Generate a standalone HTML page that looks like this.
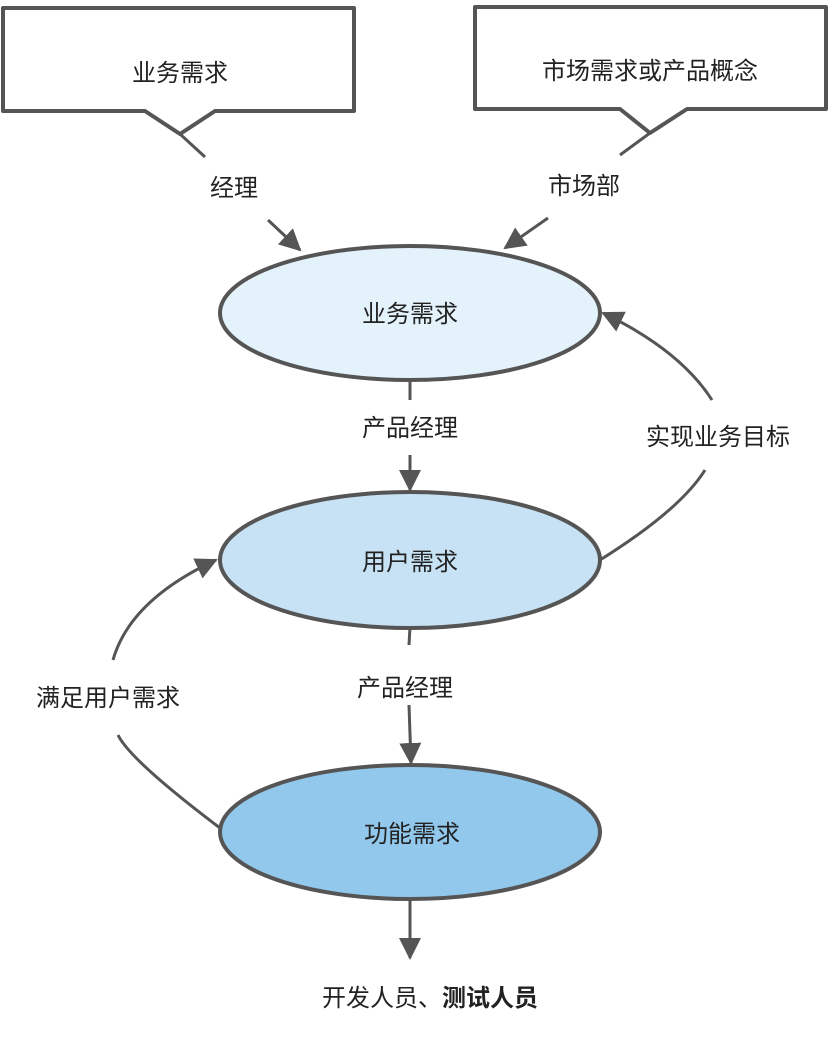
<!DOCTYPE html>
<html><head><meta charset="utf-8"><style>
body{margin:0;background:#fff;}
svg text{font-family:"Liberation Sans","Noto Sans CJK SC",sans-serif;font-size:24px;fill:#222;}
</style></head><body>
<svg width="828" height="1034" viewBox="0 0 828 1034" xmlns="http://www.w3.org/2000/svg">
<defs><marker id="a" markerWidth="10" markerHeight="10" refX="8" refY="5" orient="auto" markerUnits="userSpaceOnUse" viewBox="0 0 10 10"><path d="M0,0 L10,5 L0,10z" fill="#555"/></marker>
<marker id="b" markerWidth="22" markerHeight="22" refX="20" refY="11" orient="auto" markerUnits="userSpaceOnUse"><path d="M0,0 L22,11 L0,22z" fill="#555"/></marker></defs>
<g fill="#fff" stroke="#555" stroke-width="4" stroke-linejoin="round">
<path d="M3,8 H356 V111 H135 L113,133 L91,111 H3 Z" transform="translate(0,0)"/>
</g>
<g fill="#fff" stroke="#555" stroke-width="4" stroke-linejoin="round">
<path d="M3,8 H356 V111 H135 L113,133 L91,111 H3 Z" stroke="none" fill="none"/>
</g>
<path d="M3,8 H222 V111 H135 L113,134 L91,111 H3 Z" fill="none" stroke="none"/>
<path d="M3,8 H222 V111 H135 L113,133 L91,111 H3 Z" fill="none" stroke="none"/>
<path d="M3,8 H354 V111 H136 L114,134 L92,111 H3 Z" fill="none" stroke="none"/>
<g fill="#fff" stroke="#555" stroke-width="4">
<path d="M3,8 H354 V111 H215 L180,134 L145,111 H3 Z" stroke="none"/>
</g>
<rect x="0" y="0" width="0" height="0"/>
<g stroke="#555" stroke-width="4" fill="#fff" stroke-linejoin="round">
<path d="M3,8 H354 V111 H135 L113,133"/>
</g>
<rect x="0" y="0" width="828" height="200" fill="#fff"/>
<g stroke="#555" stroke-width="4" fill="#fff" stroke-linejoin="round">
<path d="M3,8 H222 V111 H136 L114,134 L92,111 H3 Z"/>
</g>
<rect x="0" y="0" width="828" height="200" fill="#fff"/>
<g stroke="#555" stroke-width="4" fill="#fff" stroke-linejoin="round">
<path d="M3,8 H223 V111 H135 L113,134 L91,111 H3 Z" transform="scale(1.59,1) translate(-1.1,0)"/>
</g>
<rect x="0" y="0" width="828" height="200" fill="#fff"/>
<g stroke="#555" stroke-width="4" fill="#fff" stroke-linejoin="round">
<path d="M3,8 H354 V111 H215 L180,134 L145,111 H3 Z"/>
<path d="M475,7 H826 V109 H687 L650,133 L620,109 H475 Z"/>
</g>
<g stroke="#555" stroke-width="3" fill="none">
<line x1="180" y1="134" x2="205" y2="157"/>
<line x1="650" y1="133" x2="620" y2="155"/>
<line x1="268" y1="220" x2="300" y2="250" marker-end="url(#b)"/>
<line x1="548" y1="218" x2="505" y2="248" marker-end="url(#b)"/>
<line x1="410" y1="380" x2="410" y2="400"/>
<line x1="410" y1="455" x2="410" y2="490" marker-end="url(#b)"/>
<line x1="410" y1="627" x2="409" y2="645"/>
<line x1="409" y1="705" x2="411" y2="763" marker-end="url(#b)"/>
<line x1="410" y1="900" x2="410" y2="958" marker-end="url(#b)"/>
<path d="M600,560 Q680,510 705,470"/>
<path d="M712,400 Q680,350 603,313" marker-end="url(#b)"/>
<path d="M220,828 Q130,760 118,735"/>
<path d="M113,660 Q130,600 216,560" marker-end="url(#b)"/>
</g>
<ellipse cx="410" cy="313" rx="190" ry="67" fill="#e4f2fb" stroke="#555" stroke-width="4"/>
<ellipse cx="410" cy="560" rx="190" ry="68" fill="#c6e2f4" stroke="#555" stroke-width="4"/>
<ellipse cx="410" cy="832" rx="190" ry="67" fill="#92c8ec" stroke="#555" stroke-width="4"/>
<g text-anchor="middle">
<text x="180" y="81">业务需求</text>
<text x="650" y="79">市场需求或产品概念</text>
<text x="234" y="196">经理</text>
<text x="584" y="194">市场部</text>
<text x="410" y="322">业务需求</text>
<text x="410" y="436">产品经理</text>
<text x="718" y="445">实现业务目标</text>
<text x="410" y="570">用户需求</text>
<text x="405" y="696">产品经理</text>
<text x="108" y="706">满足用户需求</text>
<text x="412" y="842">功能需求</text>
<text x="430" y="1006">开发人员、<tspan font-weight="bold">测试人员</tspan></text>
</g>
</svg>
</body></html>
